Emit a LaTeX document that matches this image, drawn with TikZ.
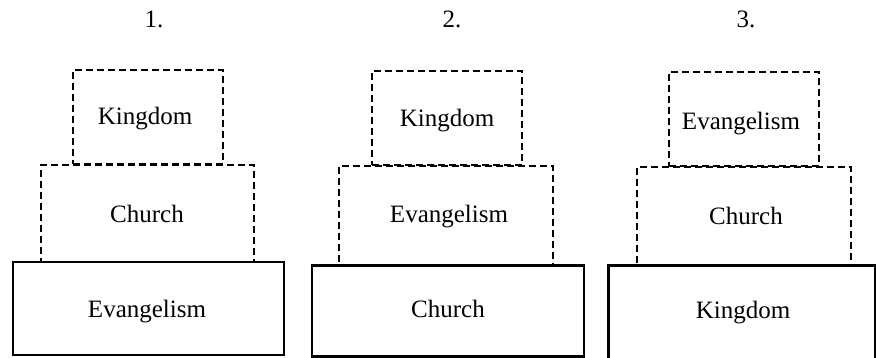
\documentclass[tikz,border=0pt]{standalone}
\usepackage{fontspec}
\setmainfont{Liberation Serif}
\begin{document}
\begin{tikzpicture}[x=1pt,y=-1pt,
  dbox/.style={draw, line width=2.5pt, dash pattern=on 7pt off 4pt, inner sep=0pt},
  sbox/.style={draw, line width=2.8pt, inner sep=0pt},
  ghost/.style={inner sep=0pt},
  lbl/.style={anchor=base, inner sep=0pt, font=\fontsize{25}{29}\selectfont},
]
\useasboundingbox (0,0) rectangle (876,358);

% numbers
\node[lbl] (n1) at (154,28) {1.};
\node[lbl] (n2) at (452,28) {2.};
\node[lbl] (n3) at (746,28) {3.};

% stack 1
\node[dbox, minimum width=150, minimum height=94] (t1) at (148,117) {};
\node[dbox, minimum width=213, minimum height=97] (m1) at (147.5,213.5) {};
\node[sbox, minimum width=271, minimum height=93] (b1) at (148.5,308.5) {};
\node[lbl] (lt1) at (145,125) {Kingdom};
\node[lbl] (lm1) at (147,223) {Church};
\node[lbl] (lb1) at (147,317) {Evangelism};

% stack 2
\node[dbox, minimum width=150, minimum height=94] (t2) at (447,118) {};
\node[dbox, minimum width=214, minimum height=99] (m2) at (446,215.5) {};
\node[sbox, minimum width=272, minimum height=91] (b2) at (448,311) {};
\node[lbl] (lt2) at (447,127) {Kingdom};
\node[lbl] (lm2) at (449,223) {Evangelism};
\node[lbl] (lb2) at (448,317) {Church};

% stack 3
\node[dbox, minimum width=150, minimum height=94] (t3) at (744,119) {};
\node[dbox, minimum width=214, minimum height=99] (m3) at (744,216.5) {};
\node[ghost, minimum width=266, minimum height=96] (b3) at (742,314) {};
\draw[line width=2.8pt] (b3.south west) -- (b3.north west) -- (b3.north east) -- (b3.south east);
\node[lbl] (lt3) at (741,130) {Evangelism};
\node[lbl] (lm3) at (746,225) {Church};
\node[lbl] (lb3) at (743,318) {Kingdom};
\end{tikzpicture}
\end{document}
